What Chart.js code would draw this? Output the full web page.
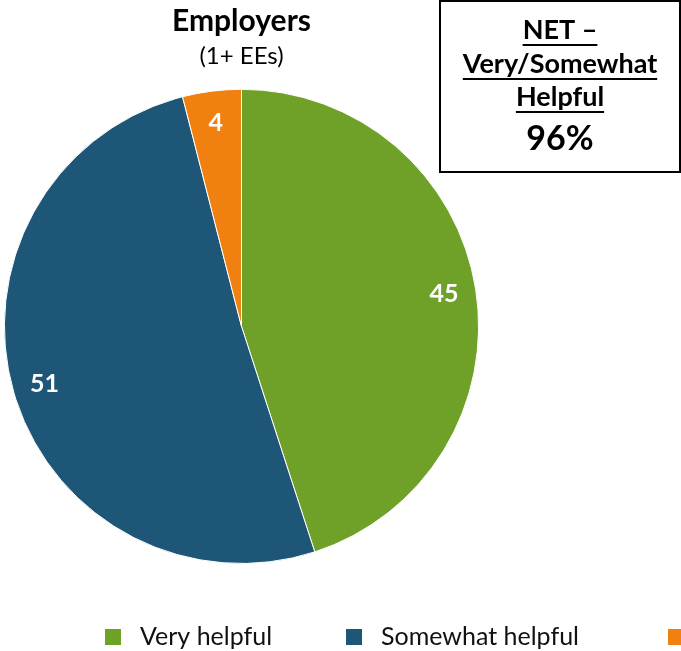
<!DOCTYPE html>
<html>
<head>
<meta charset="utf-8">
<script src="https://cdn.jsdelivr.net/npm/chart.js@4.4.1/dist/chart.umd.min.js"></script>
<style>
  html, body { margin: 0; padding: 0; background: #fff; }
  #caixa { position: relative; width: 681px; height: 651px; overflow: hidden; }
</style>
</head>
<body>
<div id="caixa"><canvas id="grafico" width="681" height="651"></canvas></div>
<script>
const categorias = ['Very helpful', 'Somewhat helpful', 'Not too helpful'];
const valores = [45, 51, 4];
const cores = ['#6FA128', '#1E5677', '#F0800F'];
const titulo = 'Employers';
const subtitulo = '(1+ EEs)';
const netLinhas = ['NET \u2013', 'Very/Somewhat', 'Helpful'];
const netValor = '96%';

const fonte = 'Lato, "Open Sans", sans-serif';

// rotulos brancos dentro das fatias
const rotulos = {
  id: 'rotulos',
  afterDatasetsDraw(chart) {
    const ctx = chart.ctx;
    const meta = chart.getDatasetMeta(0);
    ctx.save();
    ctx.font = 'bold 25px ' + fonte;
    ctx.fillStyle = '#fff';
    ctx.textAlign = 'center';
    ctx.textBaseline = 'middle';
    meta.data.forEach((arco, i) => {
      const p = arco.getProps(['x', 'y', 'startAngle', 'endAngle', 'outerRadius'], true);
      const meio = (p.startAngle + p.endAngle) / 2;
      const r = p.outerRadius * 0.865;
      ctx.fillText(valores[i], p.x + Math.cos(meio) * r, p.y + Math.sin(meio) * r);
    });
    ctx.restore();
  }
};

// caixa NET no canto
const caixaNet = {
  id: 'caixaNet',
  afterDraw(chart) {
    const ctx = chart.ctx;
    ctx.save();
    ctx.strokeStyle = '#000';
    ctx.lineWidth = 2;
    ctx.strokeRect(440, 1, 240, 171);
    const cx = 560;
    const bases = [39, 73, 106];
    ctx.fillStyle = '#000';
    ctx.textAlign = 'center';
    ctx.textBaseline = 'alphabetic';
    ctx.font = 'bold 27px ' + fonte;
    netLinhas.forEach((linha, i) => {
      ctx.fillText(linha, cx, bases[i]);
      const w = ctx.measureText(linha).width;
      ctx.fillRect(cx - w / 2, bases[i] + 5, w, 2);
    });
    ctx.font = 'bold 34px ' + fonte;
    ctx.fillText(netValor, cx, 150);
    ctx.restore();
  }
};

// legenda em linha, cortada na direita como no original
const legendaFixa = {
  id: 'legendaFixa',
  afterDraw(chart) {
    const ctx = chart.ctx;
    const xs = [105, 346, 668];
    const y = 637;
    ctx.save();
    ctx.font = '25px ' + fonte;
    ctx.textBaseline = 'middle';
    chart.data.labels.forEach((nome, i) => {
      ctx.fillStyle = cores[i];
      ctx.fillRect(xs[i], y - 8, 16, 16);
      ctx.fillStyle = '#111';
      ctx.fillText(nome, xs[i] + 35, y);
    });
    ctx.restore();
  }
};

new Chart(document.getElementById('grafico'), {
  type: 'pie',
  data: {
    labels: categorias,
    datasets: [{
      data: valores,
      backgroundColor: cores,
      borderColor: '#fff',
      borderWidth: 1
    }]
  },
  options: {
    responsive: false,
    animation: false,
    layout: {
      padding: { left: 3, right: 201, top: 0, bottom: 87 }
    },
    plugins: {
      legend: { display: false },
      tooltip: { enabled: false },
      title: {
        display: true,
        text: titulo,
        fullSize: false,
        color: '#000',
        font: { family: fonte, size: 30, weight: 'bold' },
        padding: { top: 3, bottom: 0 }
      },
      subtitle: {
        display: true,
        text: subtitulo,
        fullSize: false,
        color: '#000',
        font: { family: fonte, size: 24 },
        padding: { top: 3, bottom: 18 }
      }
    }
  },
  plugins: [rotulos, caixaNet, legendaFixa]
});
</script>
</body>
</html>
